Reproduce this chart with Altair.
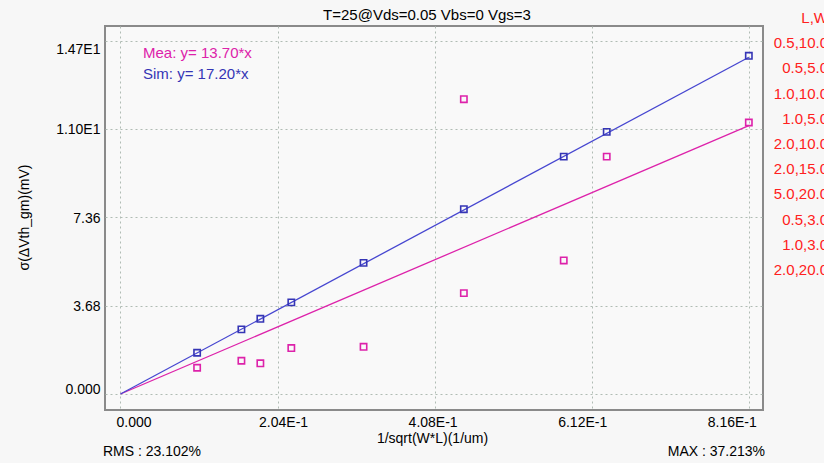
import altair as alt
import pandas as pd

# ---- data ----
mea_x = [0.0995, 0.157, 0.1816, 0.2218, 0.3156, 0.4458, 0.4458, 0.5755, 0.6313, 0.8158]
mea_y = [1.094, 1.386, 1.278, 1.914, 1.968, 4.203, 12.28, 5.564, 9.89, 11.31]
sim_x = [0.0995, 0.157, 0.1816, 0.2218, 0.3156, 0.4458, 0.5755, 0.6313, 0.8158]
sim_y = [1.719, 2.693, 3.134, 3.816, 5.464, 7.699, 9.89, 10.92, 14.09]
fit_x = [0.0, 0.8158]
mea_fit_y = [0.0, 11.18]
sim_fit_y = [0.0, 14.03]

x_ticks = [0, 0.204, 0.408, 0.612, 0.816]
x_tick_labels = ["0.000", "2.04E-1", "4.08E-1", "6.12E-1", "8.16E-1"]
y_ticks = [0, 3.68, 7.36, 11.04, 14.72]
y_tick_labels = ["0.000", "3.68", "7.36", "1.10E1", "1.47E1"]

lw_header = "L,W"
lw_labels = ["0.5,10.0", "0.5,5.0", "1.0,10.0", "1.0,5.0", "2.0,10.0",
             "2.0,15.0", "5.0,20.0", "0.5,3.0", "1.0,3.0", "2.0,20.0"]

subtitle = "T=25@Vds=0.05 Vbs=0 Vgs=3"
x_title = "1/sqrt(W*L)(1/um)"
y_title = "σ(ΔVth_gm)(mV)"
mea_eq = "Mea: y= 13.70*x"
sim_eq = "Sim: y= 17.20*x"
rms_text = "RMS : 23.102%"
max_text = "MAX : 37.213%"

MEA_C = "#dd22aa"
SIM_C = "#3535b5"
FONT = "Liberation Sans"

mea_df = pd.DataFrame({"x": mea_x, "y": mea_y})
sim_df = pd.DataFrame({"x": sim_x, "y": sim_y})
mea_fit = pd.DataFrame({"x": fit_x, "y": mea_fit_y})
sim_fit = pd.DataFrame({"x": fit_x, "y": sim_fit_y})

x_lab_expr = "[" + ",".join(f"'{s}'" for s in x_tick_labels) + "][round(datum.value/0.204)]"
y_lab_expr = "[" + ",".join(f"'{s}'" for s in y_tick_labels) + "][round(datum.value/3.68)]"

xscale = alt.Scale(domain=[-0.0201, 0.8342], nice=False, zero=False)
yscale = alt.Scale(domain=[-0.666, 15.33], nice=False, zero=False)

xaxis = alt.Axis(values=x_ticks, labelExpr=x_lab_expr, grid=True, gridDash=[2, 3],
                 gridColor="#b0bcb4", gridWidth=1, ticks=False, domain=False,
                 labelFont=FONT, labelFontSize=14, labelColor="#000000", labelPadding=5,
                 labelOffset={"expr": "13 - 37*datum.value"},
                 title=x_title, titleFont=FONT, titleFontSize=14, titleFontWeight="normal",
                 titleColor="#000000", titleX=327, titleY=28, titleBaseline="middle",
                 titleAlign="center", labelFlush=False, labelOverlap=False)
yaxis = alt.Axis(values=y_ticks, labelExpr=y_lab_expr, grid=True, gridDash=[2, 3],
                 gridColor="#b0bcb4", gridWidth=1, ticks=False, domain=False,
                 labelFont=FONT, labelFontSize=14, labelColor="#000000", labelPadding=5,
                 labelOffset={"expr": "datum.value > 14 ? 9 : (datum.value < 1 ? -5 : 1)"},
                 title=y_title, titleFont=FONT, titleFontSize=14, titleFontWeight="normal",
                 titleColor="#000000", titleX=-81, titleY=191, titleAngle=-90,
                 titleBaseline="middle", titleAlign="center", labelFlush=False,
                 labelOverlap=False)

base_x = alt.X("x:Q", scale=xscale, axis=xaxis)
base_y = alt.Y("y:Q", scale=yscale, axis=yaxis)

mea_line = alt.Chart(mea_fit).mark_line(color=MEA_C, strokeWidth=1.3).encode(x=base_x, y=base_y)
sim_line = alt.Chart(sim_fit).mark_line(color="#4646d0", strokeWidth=1.3).encode(x=base_x, y=base_y)
mea_pts = alt.Chart(mea_df).mark_point(shape="square", filled=False, size=40,
                                       strokeWidth=1.6, color=MEA_C, opacity=1).encode(x=base_x, y=base_y)
sim_pts = alt.Chart(sim_df).mark_point(shape="square", filled=False, size=40,
                                       strokeWidth=1.6, color=SIM_C, opacity=1).encode(x=base_x, y=base_y)


def label(text, x, y, color="#000000", align="left", size=14, baseline="middle", **kw):
    return alt.Chart(pd.DataFrame({"t": [text]})).mark_text(
        font=FONT, fontSize=size, color=color, align=align, baseline=baseline, **kw
    ).encode(text="t:N", x=alt.value(x), y=alt.value(y))


texts = [
    label(mea_eq, 38, 27, MEA_C, size=15),
    label(sim_eq, 38, 48, SIM_C, size=15),
    label(subtitle, 322, -11, "#000000", align="center", size=15),
    label(rms_text, -2, 426, "#000000", size=14),
    label(max_text, 660, 426, "#000000", align="right", size=14),
    label("\n".join([lw_header] + lw_labels), 723, -3, "#ff2020", align="right",
          size=15, baseline="alphabetic", lineBreak="\n", lineHeight=25.2),
]

chart = alt.layer(mea_line, sim_line, mea_pts, sim_pts, *texts).properties(
    width=658, height=384,
    autosize=alt.AutoSizeParams(type="none"),
    padding={"left": 105, "top": 26, "right": 61, "bottom": 53},
    background="#f7f7f7",
).configure_view(stroke="#8a8a8a", strokeWidth=2, fill="#f9f9f9")

chart.save("out.html", embed_options={"renderer": "svg", "actions": False})
